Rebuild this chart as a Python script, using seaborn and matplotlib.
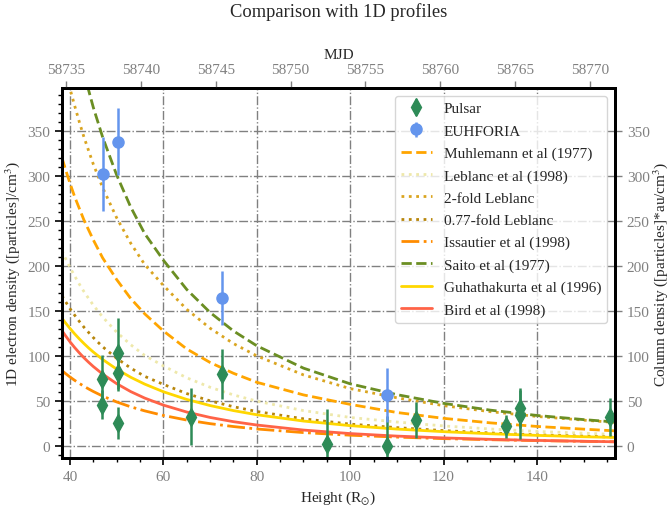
import matplotlib
matplotlib.use("Agg")
import matplotlib.pyplot as plt
import pandas as pd
import seaborn as sns
from matplotlib.ticker import MultipleLocator

# Heights (solar radii) at which the 1D density profiles are tabulated
height = [38.3, 39, 40, 41, 42, 43, 44, 45, 47, 50, 53, 56, 60, 65, 70, 75,
          80, 90, 100, 110, 120, 130, 140, 150, 156.7]

muhlemann = [320, 308, 292, 277, 264, 251, 240, 229, 209, 185, 164, 147, 128,
             108, 93, 81, 71, 57, 46.5, 37.5, 31, 26, 22, 19, 17.1]
leblanc = [217, 209, 198.5, 189, 180, 171.6, 164, 156.6, 143.4, 126.7, 112.7,
           100.8, 89.2, 76, 65.5, 57, 50.1, 39.6, 32, 26.9, 22.6, 19.2, 16.5,
           14.5, 13.2]
leblanc_2x = [433, 418, 397, 378, 360, 343, 328, 313, 287, 253.5, 225.4, 201.7,
              178.5, 152, 131, 114, 100.3, 79.2, 64, 53.8, 45.1, 38.4, 33.1,
              29, 26.4]
leblanc_077 = [167, 161, 152.8, 145.5, 138.6, 132.1, 126.3, 120.6, 110.4, 97.6,
               86.8, 77.6, 68.7, 58.5, 50.4, 43.9, 38.6, 30.5, 24.6, 20.7, 17.4,
               14.8, 12.7, 11.2, 10.2]
issautier = [83.9, 80.9, 76.9, 73.2, 69.8, 66.6, 63.6, 60.8, 55.7, 49.2, 43.8,
             39.3, 34.2, 29.1, 25.1, 21.9, 19.2, 15.2, 12.3, 10.2, 8.5, 7.3,
             6.3, 5.5, 5.0]
saito = [531, 511, 484, 459, 436, 415, 395, 376, 343, 301, 265.5, 236, 206.5,
         174, 148.5, 128, 111.5, 86.7, 69.3, 57.3, 47.6, 40.1, 34.2, 29.6, 26.9]
guhathakurta = [142, 137.2, 130.8, 124.8, 119.2, 114, 109.1, 104.6, 96.3, 85.6,
                76.6, 69, 60.5, 52, 45.2, 39.6, 35, 28, 22.9, 19.1, 16.2, 13.9,
                12.1, 10.6, 9.8]
bird = [128.3, 123, 116, 109.6, 103.7, 98.2, 93.2, 88.5, 80.1, 69.5, 60.7,
        53.5, 45.7, 38, 32, 27.3, 23.6, 18, 14.1, 11.3, 9.3, 7.7, 6.5, 5.55, 5.0]

# Pulsar dispersion-measure derived densities
pulsar_h = [46.9, 46.9, 50.2, 50.2, 50.2, 66.0, 72.6, 95.0, 107.8, 114.2,
            133.3, 136.4, 136.4, 155.6]
pulsar_n = [75, 46, 103, 81, 26, 33, 80, 2.6, 0.7, 29, 22, 42.5, 35, 32.5]
pulsar_err = [26, 16, 39, 20, 18, 32, 28, 39, 33, 20, 13, 22, 27, 21.5]

# EUHFORIA model values along the same lines of sight
euhforia_h = [47.1, 50.3, 72.6, 107.9]
euhforia_n = [302, 338, 165, 57]
euhforia_err = [41, 37, 30, 30]

mjd_ticks = [58735, 58740, 58745, 58750, 58755, 58760, 58765, 58770]
density_ticks = [0, 50, 100, 150, 200, 250, 300, 350]

profiles = pd.DataFrame({
    "height": height,
    "Muhlemann et al (1977)": muhlemann,
    "Leblanc et al (1998)": leblanc,
    "2-fold Leblanc": leblanc_2x,
    "0.77-fold Leblanc": leblanc_077,
    "Issautier et al (1998)": issautier,
    "Saito et al (1977)": saito,
    "Guhathakurta et al (1996)": guhathakurta,
    "Bird et al (1998)": bird,
})

styles = [
    ("Muhlemann et al (1977)", "#FFA500", "--"),
    ("Leblanc et al (1998)", "#EEE8AA", ":"),
    ("2-fold Leblanc", "#DAA520", ":"),
    ("0.77-fold Leblanc", "#B8860B", ":"),
    ("Issautier et al (1998)", "#FF8C00", "-."),
    ("Saito et al (1977)", "#6B8E23", "--"),
    ("Guhathakurta et al (1996)", "#FFD700", "-"),
    ("Bird et al (1998)", "#FF6347", "-"),
]

sns.set_theme(style="ticks")
plt.rcParams["font.family"] = ["Liberation Serif", "DejaVu Serif"]
plt.rcParams["mathtext.fontset"] = "stix"
plt.rcParams["axes.linewidth"] = 2.0
plt.rcParams["axes.edgecolor"] = "black"

fig = plt.figure(figsize=(6.72, 5.10), dpi=100)
ax = fig.add_axes([62 / 672, 51 / 510, 553 / 672, 370 / 510])

for name, color, ls in styles:
    sns.lineplot(data=profiles, x="height", y=name, color=color, linestyle=ls,
                 lw=2, label=name, ax=ax, zorder=2)

ax.errorbar(pulsar_h, pulsar_n, yerr=pulsar_err, fmt="d", color="#2E8B57",
            ms=9, elinewidth=1.8, capsize=0, label="Pulsar", zorder=3)
ax.errorbar(euhforia_h, euhforia_n, yerr=euhforia_err, fmt="o",
            color="#6495ED", ms=8, elinewidth=1.8, capsize=0,
            label="EUHFORIA", zorder=3)

ax.set_xlim(38.3, 156.7)
ax.set_ylim(-13, 397.5)
ax.set_yticks(density_ticks)
ax.xaxis.set_minor_locator(MultipleLocator(5))
ax.yaxis.set_minor_locator(MultipleLocator(10))
ax.grid(True, which="major", color="gray", ls="-.", lw=1.0)
ax.set_axisbelow(True)

ax.tick_params(which="both", direction="out", labelcolor="gray",
               labelsize=11, color="black")
ax.tick_params(which="major", length=5, width=1.2)
ax.tick_params(which="minor", length=3, width=1.0)
ax.set_xlabel(r"Height (R$_{\odot}$)", fontsize=11)
ax.set_ylabel(r"1D electron density ([particles]/cm$^3$)", fontsize=11)

# Right axis: column density on the same scale
axr = ax.twinx()
axr.set_ylim(ax.get_ylim())
axr.set_yticks(density_ticks)
axr.tick_params(direction="out", labelcolor="gray", labelsize=11,
                color="gray", length=5, width=1.0)
axr.set_ylabel(r"Column density ([particles]*au/cm$^3$)", fontsize=11,
               labelpad=1)

# Top axis: observation date
axt = ax.twiny()
axt.set_xlim(58734.73, 58771.67)
axt.set_xticks(mjd_ticks)
axt.tick_params(direction="out", labelcolor="gray", labelsize=11,
                color="gray", length=5, width=1.0)
axt.set_xlabel("MJD", fontsize=11)

for a in (axr, axt):
    a.grid(False)
    for sp in a.spines.values():
        sp.set_linewidth(2.0)
        sp.set_color("black")

handles, labels = ax.get_legend_handles_labels()
order = [labels.index("Pulsar"), labels.index("EUHFORIA")] + \
    [labels.index(s[0]) for s in styles]
ax.legend([handles[i] for i in order], [labels[i] for i in order],
          loc="upper right", fontsize=11, labelspacing=0.56, frameon=True,
          fancybox=True, framealpha=0.8, edgecolor="0.8")

fig.text(338.5 / 672, 1 - 12 / 510, "Comparison with 1D profiles",
         ha="center", va="center", fontsize=13.3)

fig.savefig("out.png", dpi=100)
